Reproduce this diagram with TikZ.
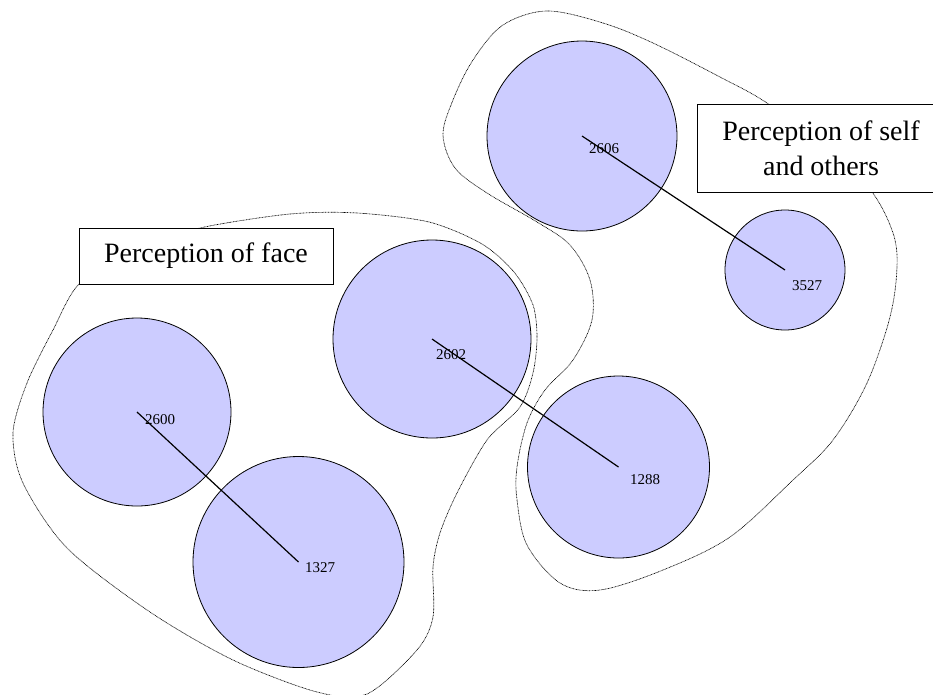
\documentclass[tikz,border=0pt]{standalone}
\usepackage{fontspec}
\setmainfont{Liberation Serif}
\usetikzlibrary{positioning}
\definecolor{lavender}{RGB}{204,204,255}

\tikzset{
  blob/.style={circle, draw, fill=lavender, line width=0.6pt, inner sep=0pt, minimum size=#1*1.5pt},
  num/.style={font=\fontsize{11.25}{13}\selectfont, inner sep=0pt},
  tag/.style={draw, fill=white, line width=0.7pt, align=center, font=\fontsize{21}{26}\selectfont},
  hull/.style={line width=0.5pt, dash pattern=on 0.6pt off 0.5pt},
  link/.style={line width=0.9pt}
}

\begin{document}
\begin{tikzpicture}[x=0.75pt, y=-0.75pt]
    \useasboundingbox (0,0) rectangle (933,694);

    % group outlines
    \draw[hull] plot[smooth cycle, tension=0.5] coordinates {
      (200,228) (290,214) (357,213) (429,222) (482,244) (514,272) (533,305)
      (537,338) (533,373) (520,407) (487,440) (457,493) (440,533) (433,567)
      (433,617) (417,650) (367,694) (317,692) (233,660) (150,612)
      (67,548) (23,483) (13,433) (27,383) (53,330) (79,284) (130,250)};
    \draw[hull] plot[smooth cycle, tension=0.55] coordinates {
      (547,11) (603,23) (653,43) (720,77) (767,103) (830,150) (872,192)
      (893,233) (897,267) (890,317) (867,383) (833,440) (793,480) (730,537)
      (663,570) (600,590) (560,583) (527,545) (517,500) (517,467) (527,423)
      (545,390) (573,360) (592,320) (590,280) (570,245) (537,222) (487,193)
      (455,168) (443,135) (453,100) (473,60) (503,25)};

    % clusters
    \node[blob=94]    (c2600) at (137,412) {};
    \node[blob=105.5] (c1327) at (298.5,562) {};
    \node[blob=99]    (c2602) at (432,339) {};
    \node[blob=91]    (c1288) at (618.5,467) {};
    \node[blob=95]    (c2606) at (582,136) {};
    \node[blob=60]    (c3527) at (785,270) {};

    \draw[link] (c2600.center) -- (c1327.center);
    \draw[link] (c2602.center) -- (c1288.center);
    \draw[link] (c2606.center) -- (c3527.center);

    \node[num] (n2600) at (160,420) {2600};
    \node[num] (n1327) at (320,568) {1327};
    \node[num] (n2602) at (451,355) {2602};
    \node[num] (n1288) at (645,480) {1288};
    \node[num] (n2606) at (604,149) {2606};
    \node[num] (n3527) at (807,286) {3527};

    % group labels
    \node[tag, minimum width=190.5pt, minimum height=42pt] (face) at (206,256) {Perception of face};
    \node[tag, minimum width=186pt, minimum height=66pt] (self) at (821,148) {Perception of self\\and others};
\end{tikzpicture}
\end{document}
